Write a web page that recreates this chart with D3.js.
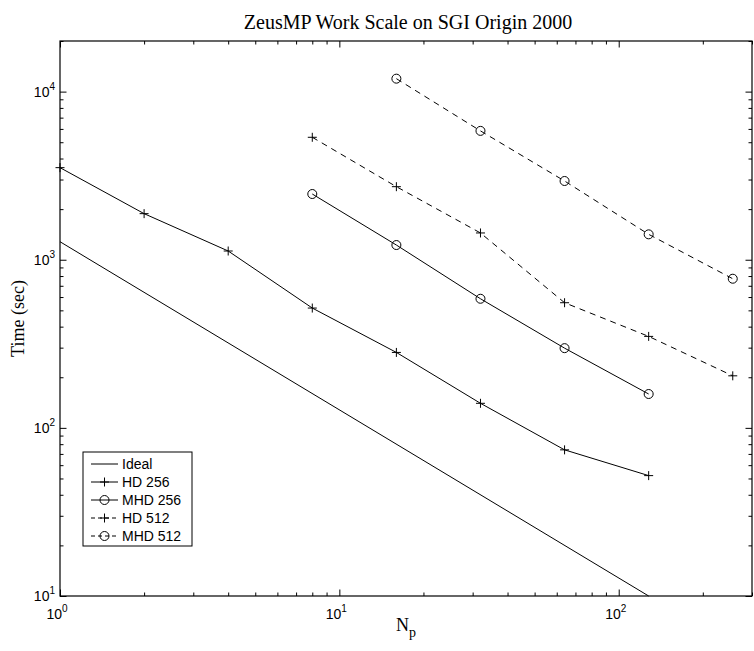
<!DOCTYPE html>
<html>
<head>
<meta charset="utf-8">
<script src="https://cdn.jsdelivr.net/npm/d3@7"></script>
<style>
  body { margin: 0; background: #fff; }
</style>
</head>
<body>
<script>
// data (time in sec vs number of processors)
const idealN = [1, 128];
const idealT = [1280, 10];
const hd256N = [1, 2, 4, 8, 16, 32, 64, 128];
const hd256T = [3530, 1880, 1127, 516, 281, 140, 74, 52];
const mhd256N = [8, 16, 32, 64, 128];
const mhd256T = [2460, 1223, 586, 298, 159];
const hd512N = [8, 16, 32, 64, 128, 256];
const hd512T = [5350, 2720, 1443, 555, 350, 204];
const mhd512N = [16, 32, 64, 128, 256];
const mhd512T = [11940, 5840, 2940, 1416, 771];

const xMajor = [1, 10, 100];
const yMajor = [10, 100, 1000, 10000];

const series = [
  { name: "Ideal", n: idealN, t: idealT, marker: "none", dash: null },
  { name: "HD 256", n: hd256N, t: hd256T, marker: "plus", dash: null },
  { name: "MHD 256", n: mhd256N, t: mhd256T, marker: "circle", dash: null },
  { name: "HD 512", n: hd512N, t: hd512T, marker: "plus", dash: "6,5" },
  { name: "MHD 512", n: mhd512N, t: mhd512T, marker: "circle", dash: "6,5" }
];

const width = 754, height = 651;
const pLeft = 60, pRight = 752, pTop = 41, pBottom = 596;

//SVG-elementet
const svg = d3.select("body")
  .append("svg")
  .attr("width", width)
  .attr("height", height)
  .style("display", "block");

const x = d3.scaleLog().domain([1, 300]).range([pLeft, pRight]);
const y = d3.scaleLog().domain([10, 20000]).range([pBottom, pTop]);

// minor ticks 2..9 per decade
function minors(lo, hi) {
  const out = [];
  for (let d = lo; d < hi; d *= 10) {
    for (let k = 2; k <= 9; k++) if (d * k <= hi) out.push(d * k);
  }
  return out;
}
const xMinor = minors(1, 300);
const yMinor = minors(10, 20000);

const tickFont = "Liberation Sans, Arial, sans-serif";
const serif = "Liberation Serif, Times New Roman, serif";

// axes with inward ticks on all four sides
function drawAxis(axisFn, scale, major, minor, transform) {
  const gMin = svg.append("g").attr("transform", transform)
    .call(axisFn(scale).tickValues(minor).tickSizeInner(-3.5).tickSizeOuter(0).tickFormat(""));
  gMin.select(".domain").remove();
  const g = svg.append("g").attr("transform", transform)
    .call(axisFn(scale).tickValues(major).tickSizeInner(-6.5).tickSizeOuter(0).tickFormat(""));
  g.select(".domain").remove();
  svg.selectAll("g .tick line").attr("stroke", "#000").attr("stroke-width", 1);
  return g;
}

drawAxis(d3.axisBottom, x, xMajor, xMinor, `translate(0,${pBottom})`);
drawAxis(d3.axisTop, x, xMajor, xMinor, `translate(0,${pTop})`);
drawAxis(d3.axisLeft, y, yMajor, yMinor, `translate(${pLeft},0)`);
drawAxis(d3.axisRight, y, yMajor, yMinor, `translate(${pRight},0)`);

// frame
svg.append("rect")
  .attr("x", pLeft).attr("y", pTop)
  .attr("width", pRight - pLeft).attr("height", pBottom - pTop)
  .attr("fill", "none").attr("stroke", "#000").attr("stroke-width", 1.2);

// tick labels 10^k
xMajor.forEach(function (v) {
  const t = svg.append("text")
    .attr("x", x(v) - 3).attr("y", pBottom + 23)
    .attr("text-anchor", "middle")
    .attr("font-family", tickFont).attr("font-size", 14);
  t.append("tspan").text("10");
  t.append("tspan").attr("dy", -7).attr("font-size", 10).text(Math.round(Math.log10(v)));
});
yMajor.forEach(function (v) {
  const t = svg.append("text")
    .attr("x", pLeft - 5).attr("y", y(v) + 5)
    .attr("text-anchor", "end")
    .attr("font-family", tickFont).attr("font-size", 14);
  t.append("tspan").text("10");
  t.append("tspan").attr("dy", -7).attr("font-size", 10).text(Math.round(Math.log10(v)));
});

// lines
const line = d3.line().x(d => x(d[0])).y(d => y(d[1]));

function drawMarker(g, marker, cx, cy) {
  if (marker === "plus") {
    g.append("path")
      .attr("d", `M${cx - 4.5},${cy}H${cx + 4.5}M${cx},${cy - 4.5}V${cy + 4.5}`)
      .attr("stroke", "#000").attr("stroke-width", 1).attr("fill", "none");
  } else if (marker === "circle") {
    g.append("circle")
      .attr("cx", cx).attr("cy", cy).attr("r", 4.5)
      .attr("stroke", "#000").attr("stroke-width", 1).attr("fill", "none");
  }
}

series.forEach(function (s) {
  const pts = s.n.map((n, i) => [n, s.t[i]]);
  const g = svg.append("g");
  g.append("path")
    .datum(pts)
    .attr("d", line)
    .attr("fill", "none")
    .attr("stroke", "#000")
    .attr("stroke-width", 1)
    .attr("stroke-dasharray", s.dash);
  pts.forEach(p => drawMarker(g, s.marker, x(p[0]), y(p[1])));
});

// legend
const lg = svg.append("g");
lg.append("rect")
  .attr("x", 83).attr("y", 452).attr("width", 109).attr("height", 94)
  .attr("fill", "#fff").attr("stroke", "#000").attr("stroke-width", 1);
series.forEach(function (s, i) {
  const ly = 464 + i * 18;
  lg.append("line")
    .attr("x1", 91).attr("x2", 118).attr("y1", ly).attr("y2", ly)
    .attr("stroke", "#000").attr("stroke-width", 1)
    .attr("stroke-dasharray", s.dash ? "4,3" : null);
  drawMarker(lg, s.marker, 104.5, ly);
  lg.append("text")
    .attr("x", 122).attr("y", ly + 5)
    .attr("font-family", tickFont).attr("font-size", 14)
    .text(s.name);
});

// title and axis labels
svg.append("text")
  .attr("x", 408).attr("y", 29)
  .attr("text-anchor", "middle")
  .attr("font-family", serif).attr("font-size", 20)
  .text("ZeusMP Work Scale on SGI Origin 2000");

const xl = svg.append("text")
  .attr("x", 406).attr("y", 631)
  .attr("text-anchor", "middle")
  .attr("font-family", serif).attr("font-size", 18);
xl.append("tspan").text("N");
xl.append("tspan").attr("dy", 6).attr("font-size", 14).text("p");

svg.append("text")
  .attr("transform", `translate(24,${(pTop + pBottom) / 2}) rotate(-90)`)
  .attr("text-anchor", "middle")
  .attr("font-family", serif).attr("font-size", 18)
  .text("Time (sec)");
</script>
</body>
</html>
